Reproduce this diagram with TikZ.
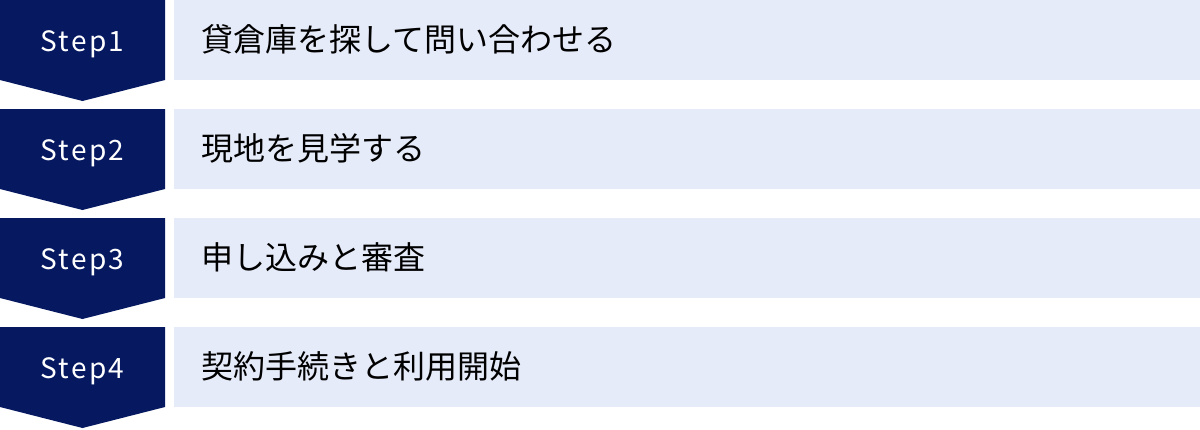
\documentclass[tikz,border=0pt]{standalone}
\usepackage{fontspec}
\setmainfont{Noto Sans CJK JP}
\newfontfamily\jpfont{Noto Sans CJK JP}
\definecolor{navy}{RGB}{5,24,96}
\definecolor{lightbox}{RGB}{230,235,249}
\tikzset{
  stepshape/.style={fill=navy, draw=none},
  stepbox/.style={fill=lightbox, draw=none},
  steplabel/.style={text=white, font=\jpfont\fontsize{28bp}{32bp}\selectfont, inner sep=0pt, anchor=base},
  boxtext/.style={text=black, font=\jpfont\fontsize{32bp}{36bp}\selectfont, anchor=base west, inner sep=0pt}
}
\begin{document}
\begin{tikzpicture}[x=1bp,y=-1bp]
\useasboundingbox (0,0) rectangle (1200,429);
\foreach \i/\lbl/\txt in {0/Step1/貸倉庫を探して問い合わせる,1/Step2/現地を見学する,2/Step3/申し込みと審査,3/Step4/契約手続きと利用開始}{
  \pgfmathsetmacro{\yo}{\i*109}
  \fill[stepshape] (0,\yo) -- (165,\yo) -- (165,\yo+80) -- (82.5,\yo+101) -- (0,\yo+80) -- cycle;
  \fill[stepbox] (174,\yo) rectangle (1200,\yo+80);
  \node[steplabel] (s\i) at (82.5,\yo+51.5) {\addfontfeature{LetterSpace=8}\lbl};
  \node[boxtext] (t\i) at (201,\yo+51.5) {\txt};
}
\end{tikzpicture}
\end{document}
